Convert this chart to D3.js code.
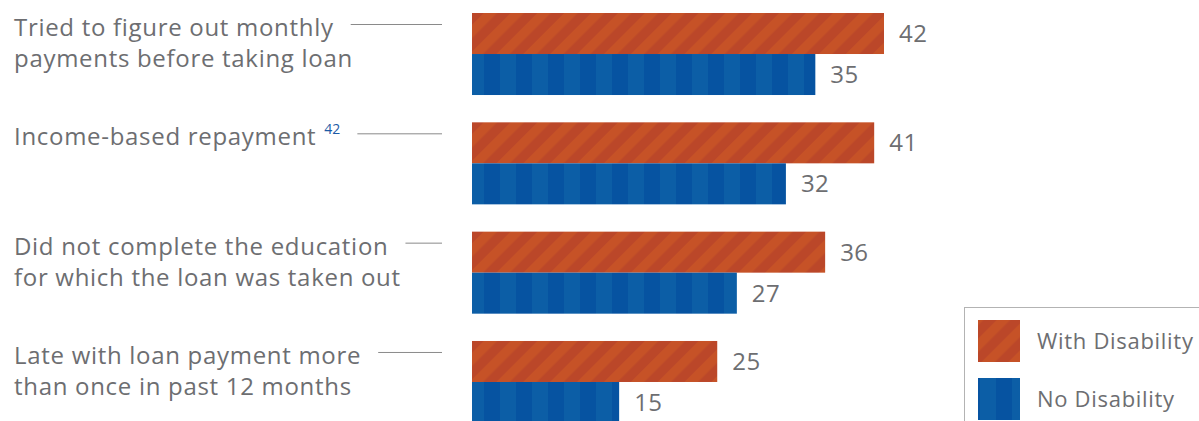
<!DOCTYPE html>
<html>
<head>
<meta charset="utf-8">
<script src="https://cdn.jsdelivr.net/npm/d3@7"></script>
<style>
  html, body { margin: 0; padding: 0; background: #fff; }
  svg { display: block; font-family: "Open Sans", "Noto Sans", sans-serif; }
</style>
</head>
<body>
<svg id="chart" width="1199" height="421"></svg>
<script>
// Survey measures, percent of borrowers
const categories = [
  ["Tried to figure out monthly", "payments before taking loan"],
  ["Income-based repayment"],
  ["Did not complete the education", "for which the loan was taken out"],
  ["Late with loan payment more", "than once in past 12 months"]
];
const footnotes = ["", "42", "", ""];
const seriesNames = ["With Disability", "No Disability"];
const withDisability = [42, 41, 36, 25];
const noDisability = [35, 32, 27, 15];

const svg = d3.select("#chart");
const textColor = "#6d6e71";

// Striped fills
const defs = svg.append("defs");
const diag = defs.append("pattern")
  .attr("id", "stripeOrange").attr("patternUnits", "userSpaceOnUse")
  .attr("width", 19).attr("height", 19)
  .attr("patternTransform", "rotate(45)");
diag.append("rect").attr("width", 19).attr("height", 19).attr("fill", "#bb4729");
diag.append("rect").attr("width", 9.5).attr("height", 19).attr("fill", "#c65227");

const vert = defs.append("pattern")
  .attr("id", "stripeBlue").attr("patternUnits", "userSpaceOnUse")
  .attr("x", 468).attr("width", 32).attr("height", 10);
vert.append("rect").attr("width", 32).attr("height", 10).attr("fill", "#0653a1");
vert.append("rect").attr("width", 16).attr("height", 10).attr("fill", "#0c5ea6");

const fills = ["url(#stripeOrange)", "url(#stripeBlue)"];

const x = d3.scaleLinear().domain([0, 42]).range([472, 884]);
const y = d3.scaleBand().domain(d3.range(categories.length))
  .range([13, 423]).paddingInner(27.3 / 109.3).paddingOuter(0);
const ySub = d3.scaleBand().domain([0, 1]).range([0, y.bandwidth()]);

const groups = svg.selectAll("g.group").data(categories).join("g")
  .attr("class", "group")
  .attr("transform", (d, i) => `translate(0,${y(i)})`);

const values = [withDisability, noDisability];
groups.each(function (cat, i) {
  const g = d3.select(this);
  values.forEach((vals, s) => {
    g.append("rect")
      .attr("x", x(0)).attr("y", ySub(s))
      .attr("width", x(vals[i]) - x(0)).attr("height", ySub.bandwidth())
      .attr("fill", fills[s]);
    g.append("text")
      .attr("x", x(vals[i]) + 15).attr("y", ySub(s) + ySub.bandwidth() / 2)
      .attr("dy", "0.36em")
      .attr("font-size", 24).attr("letter-spacing", 0.5).attr("fill", textColor)
      .text(vals[i]);
  });

  // category label
  const label = g.append("text")
    .attr("x", 14).attr("y", 23)
    .attr("font-size", 24).attr("letter-spacing", 0.7).attr("fill", textColor);
  cat.forEach((line, k) => {
    label.append("tspan").attr("x", 14).attr("dy", k === 0 ? 0 : 31).text(line);
  });
  let endX = 14 + label.select("tspan").node().getComputedTextLength();
  if (footnotes[i]) {
    const fn = g.append("text")
      .attr("x", endX + 8).attr("y", 12)
      .attr("font-size", 14).attr("fill", "#1c5aa6")
      .text(footnotes[i]);
    endX += 8 + fn.node().getComputedTextLength();
  }
  g.append("line")
    .attr("x1", endX + 17).attr("x2", 442)
    .attr("y1", 11.5).attr("y2", 11.5)
    .attr("stroke", "#8a8a8a").attr("stroke-width", 1);
});

// Legend
const legend = svg.append("g");
legend.append("rect")
  .attr("x", 964.5).attr("y", 307.5).attr("width", 260).attr("height", 140)
  .attr("fill", "#fff").attr("stroke", "#b3b3b3");
seriesNames.forEach((name, s) => {
  legend.append("rect")
    .attr("x", 978).attr("y", 320 + s * 58).attr("width", 42).attr("height", 42)
    .attr("fill", fills[s]);
  legend.append("text")
    .attr("x", 1037).attr("y", 341 + s * 58).attr("dy", "0.36em")
    .attr("font-size", 22).attr("letter-spacing", 0.7).attr("fill", textColor)
    .text(name);
});
</script>
</body>
</html>
